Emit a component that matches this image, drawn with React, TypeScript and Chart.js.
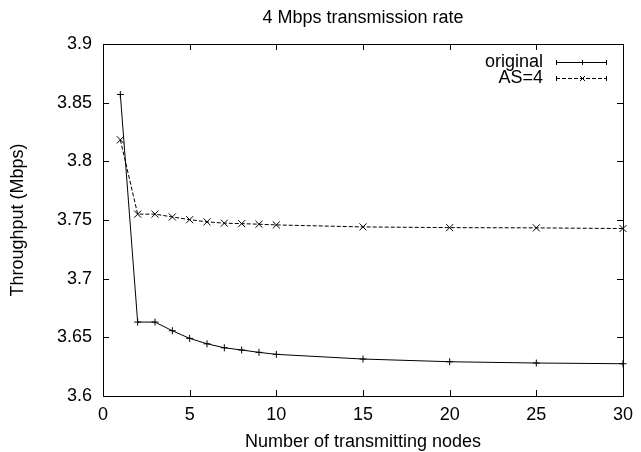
import React, { useEffect, useRef } from 'react';
import { Chart, registerables } from 'chart.js';

Chart.register(...registerables);

const titleText = '4 Mbps transmission rate';
const xTitle = 'Number of transmitting nodes';
const yTitle = 'Throughput (Mbps)';

const nodes = [1, 2, 3, 4, 5, 6, 7, 8, 9, 10, 15, 20, 25, 30];
const originalSeries = [3.857, 3.663, 3.663, 3.6556, 3.6491, 3.6445, 3.6411, 3.6392, 3.6372, 3.6355, 3.6315, 3.6292, 3.6281, 3.6275];
const as4Series = [3.8183, 3.755, 3.755, 3.7526, 3.7503, 3.7484, 3.7473, 3.7469, 3.7464, 3.7458, 3.7441, 3.7435, 3.7433, 3.7427];
const seriesNames = ['original', 'AS=4'];

const xTicks = [0, 5, 10, 15, 20, 25, 30];
const yTicks = [3.6, 3.65, 3.7, 3.75, 3.8, 3.85, 3.9];

const FONT = '"Liberation Sans", Arial, Helvetica, sans-serif';
const FS = 18;

const framePlugin = {
  id: 'gnuFrame',
  afterDatasetsDraw(chart: any) {
    const { ctx, chartArea: a, scales } = chart;
    const xs = scales.x, ys = scales.y;
    ctx.save();
    ctx.strokeStyle = '#000';
    ctx.lineWidth = 1;
    ctx.setLineDash([]);
    ctx.strokeRect(Math.round(a.left) + 0.5, Math.round(a.top) + 0.5, Math.round(a.right - a.left), Math.round(a.bottom - a.top));
    const tl = 6;
    ctx.beginPath();
    xTicks.forEach((v) => {
      const px = Math.round(xs.getPixelForValue(v)) + 0.5;
      ctx.moveTo(px, a.bottom); ctx.lineTo(px, a.bottom - tl);
      ctx.moveTo(px, a.top); ctx.lineTo(px, a.top + tl);
    });
    yTicks.forEach((v) => {
      const py = Math.round(ys.getPixelForValue(v)) + 0.5;
      ctx.moveTo(a.left, py); ctx.lineTo(a.left + tl, py);
      ctx.moveTo(a.right, py); ctx.lineTo(a.right - tl, py);
    });
    ctx.stroke();

    // texts
    ctx.fillStyle = '#000';
    ctx.font = `${FS}px ${FONT}`;
    ctx.textBaseline = 'middle';
    ctx.textAlign = 'center';
    ctx.fillText(titleText, (a.left + a.right) / 2, 18);
    ctx.fillText(xTitle, (a.left + a.right) / 2, 442);
    ctx.save();
    ctx.translate(18, (a.top + a.bottom) / 2);
    ctx.rotate(-Math.PI / 2);
    ctx.fillText(yTitle, 0, 0);
    ctx.restore();

    // legend
    const rows = [
      { name: seriesNames[0], y: 62, dash: [] as number[], mark: 'plus' },
      { name: seriesNames[1], y: 78, dash: [4, 2], mark: 'x' },
    ];
    const lx0 = 556, lx1 = 607;
    rows.forEach((r) => {
      ctx.textAlign = 'right';
      ctx.fillText(r.name, 543, r.y);
      const yy = r.y + 0.5;
      ctx.setLineDash(r.dash);
      ctx.beginPath();
      ctx.moveTo(lx0, yy); ctx.lineTo(lx1, yy);
      ctx.stroke();
      ctx.setLineDash([]);
      ctx.beginPath();
      ctx.moveTo(lx0 + 0.5, yy - 2.5); ctx.lineTo(lx0 + 0.5, yy + 2.5);
      ctx.moveTo(lx1 - 0.5, yy - 2.5); ctx.lineTo(lx1 - 0.5, yy + 2.5);
      const mx = Math.round((lx0 + lx1) / 2) + 0.5;
      if (r.mark === 'plus') {
        ctx.moveTo(mx, yy - 2.5); ctx.lineTo(mx, yy + 2.5);
      } else {
        ctx.moveTo(mx - 2.5, yy - 2.5); ctx.lineTo(mx + 2.5, yy + 2.5);
        ctx.moveTo(mx - 2.5, yy + 2.5); ctx.lineTo(mx + 2.5, yy - 2.5);
      }
      ctx.stroke();
    });
    ctx.restore();
  },
};

export default function App() {
  const ref = useRef<HTMLCanvasElement | null>(null);
  useEffect(() => {
    document.body.style.margin = '0';
    const canvas = ref.current;
    if (!canvas) return;
    const chart = new Chart(canvas, {
      type: 'line',
      data: {
        datasets: [
          {
            label: seriesNames[0],
            data: nodes.map((x, i) => ({ x, y: originalSeries[i] })),
            borderColor: '#000',
            backgroundColor: '#000',
            borderWidth: 1,
            pointStyle: 'cross',
            pointRadius: 3.5,
            pointBorderWidth: 1,
            pointBorderColor: '#000',
            tension: 0,
            fill: false,
            clip: false,
          } as any,
          {
            label: seriesNames[1],
            data: nodes.map((x, i) => ({ x, y: as4Series[i] })),
            borderColor: '#000',
            backgroundColor: '#000',
            borderWidth: 1,
            borderDash: [4, 2],
            pointStyle: 'crossRot',
            pointRadius: 5,
            pointBorderWidth: 1,
            pointBorderColor: '#000',
            tension: 0,
            fill: false,
            clip: false,
          } as any,
        ],
      },
      options: {
        animation: false,
        responsive: false,
        devicePixelRatio: 1,
        layout: { padding: { left: 0, right: 13, top: 44, bottom: 0 } },
        plugins: { legend: { display: false }, tooltip: { enabled: false }, title: { display: false } },
        scales: {
          x: {
            type: 'linear',
            min: 0,
            max: 30,
            afterFit: (s: any) => { s.height = 56; },
            afterBuildTicks: (s: any) => { s.ticks = xTicks.map((v) => ({ value: v })); },
            grid: { display: false, drawTicks: false, tickLength: 0 },
            border: { display: false },
            ticks: {
              color: '#000',
              font: { family: FONT, size: FS },
              padding: 8,
              maxRotation: 0,
              autoSkip: false,
              callback: (v: any) => String(v),
            },
          },
          y: {
            type: 'linear',
            min: 3.6,
            max: 3.9,
            afterFit: (s: any) => { s.width = 103; },
            afterBuildTicks: (s: any) => { s.ticks = yTicks.map((v) => ({ value: v })); },
            grid: { display: false, drawTicks: false, tickLength: 0 },
            border: { display: false },
            ticks: {
              color: '#000',
              font: { family: FONT, size: FS },
              padding: 11,
              autoSkip: false,
              callback: (v: any) => String(+Number(v).toFixed(2)),
            },
          },
        },
      },
      plugins: [framePlugin],
    } as any);
    return () => chart.destroy();
  }, []);
  return (
    <div style={{ width: 641, height: 452, position: 'relative' }}>
      <canvas ref={ref} width={641} height={452} style={{ display: 'block', width: 641, height: 452 }} />
    </div>
  );
}
